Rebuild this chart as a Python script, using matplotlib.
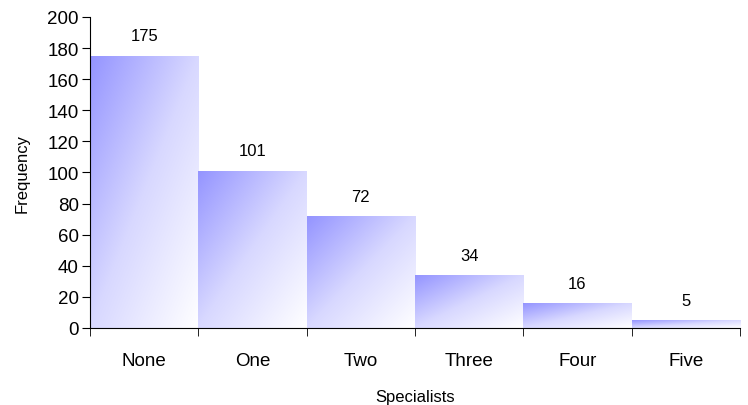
import numpy as np
import matplotlib.pyplot as plt
from matplotlib.colors import LinearSegmentedColormap

categories = ['None', 'One', 'Two', 'Three', 'Four', 'Five']
frequency = [175, 101, 72, 34, 16, 5]

plt.rcParams['font.family'] = ['Liberation Sans', 'DejaVu Sans']

fig = plt.figure(figsize=(7.48, 4.06), dpi=100)
ax = fig.add_axes([0.1203, 0.1897, 0.869, 0.766])

x = np.arange(len(categories))
bars = ax.bar(x, frequency, width=1.0, facecolor='none', edgecolor='none')

# diagonal gradient: blue at the upper left, white at the lower right
cmap = LinearSegmentedColormap.from_list('grad', ['#9494ff', '#d8d8ff', '#ffffff'])
u = np.linspace(0, 1, 200)
uu, vv = np.meshgrid(u, u)
grad = (uu + vv) / 2  # row 0 is the top of the bar with origin='upper'

for b in bars:
    x0, y0 = b.get_x(), b.get_y()
    w, h = b.get_width(), b.get_height()
    im = ax.imshow(grad, cmap=cmap, vmin=0, vmax=1, origin='upper',
                   extent=[x0, x0 + w, y0, y0 + h], aspect='auto',
                   interpolation='bilinear', zorder=1)
    im.set_clip_path(b)

for xi, v in zip(x, frequency):
    ax.annotate(str(v), (xi, v), xytext=(0, 9), textcoords='offset points',
                ha='center', va='bottom', fontsize=12)

ax.set_xlim(-0.5, len(categories) - 0.5)
ax.set_ylim(0, 200)
ax.set_yticks(np.arange(0, 201, 20))
ax.set_xticks(x)
ax.set_xticklabels(categories, fontsize=13.5)
ax.set_xticks(np.arange(-0.5, len(categories)), minor=True)
ax.tick_params(axis='x', which='major', length=0, pad=17)
ax.tick_params(axis='x', which='minor', length=6, direction='out')
ax.tick_params(axis='y', labelsize=13.5, length=6, direction='out', pad=2)

ax.spines['top'].set_visible(False)
ax.spines['right'].set_visible(False)

ax.set_xlabel('Specialists', fontsize=12, labelpad=15)
ax.set_ylabel('Frequency', fontsize=12, labelpad=13)

fig.savefig('out.png', dpi=100)
